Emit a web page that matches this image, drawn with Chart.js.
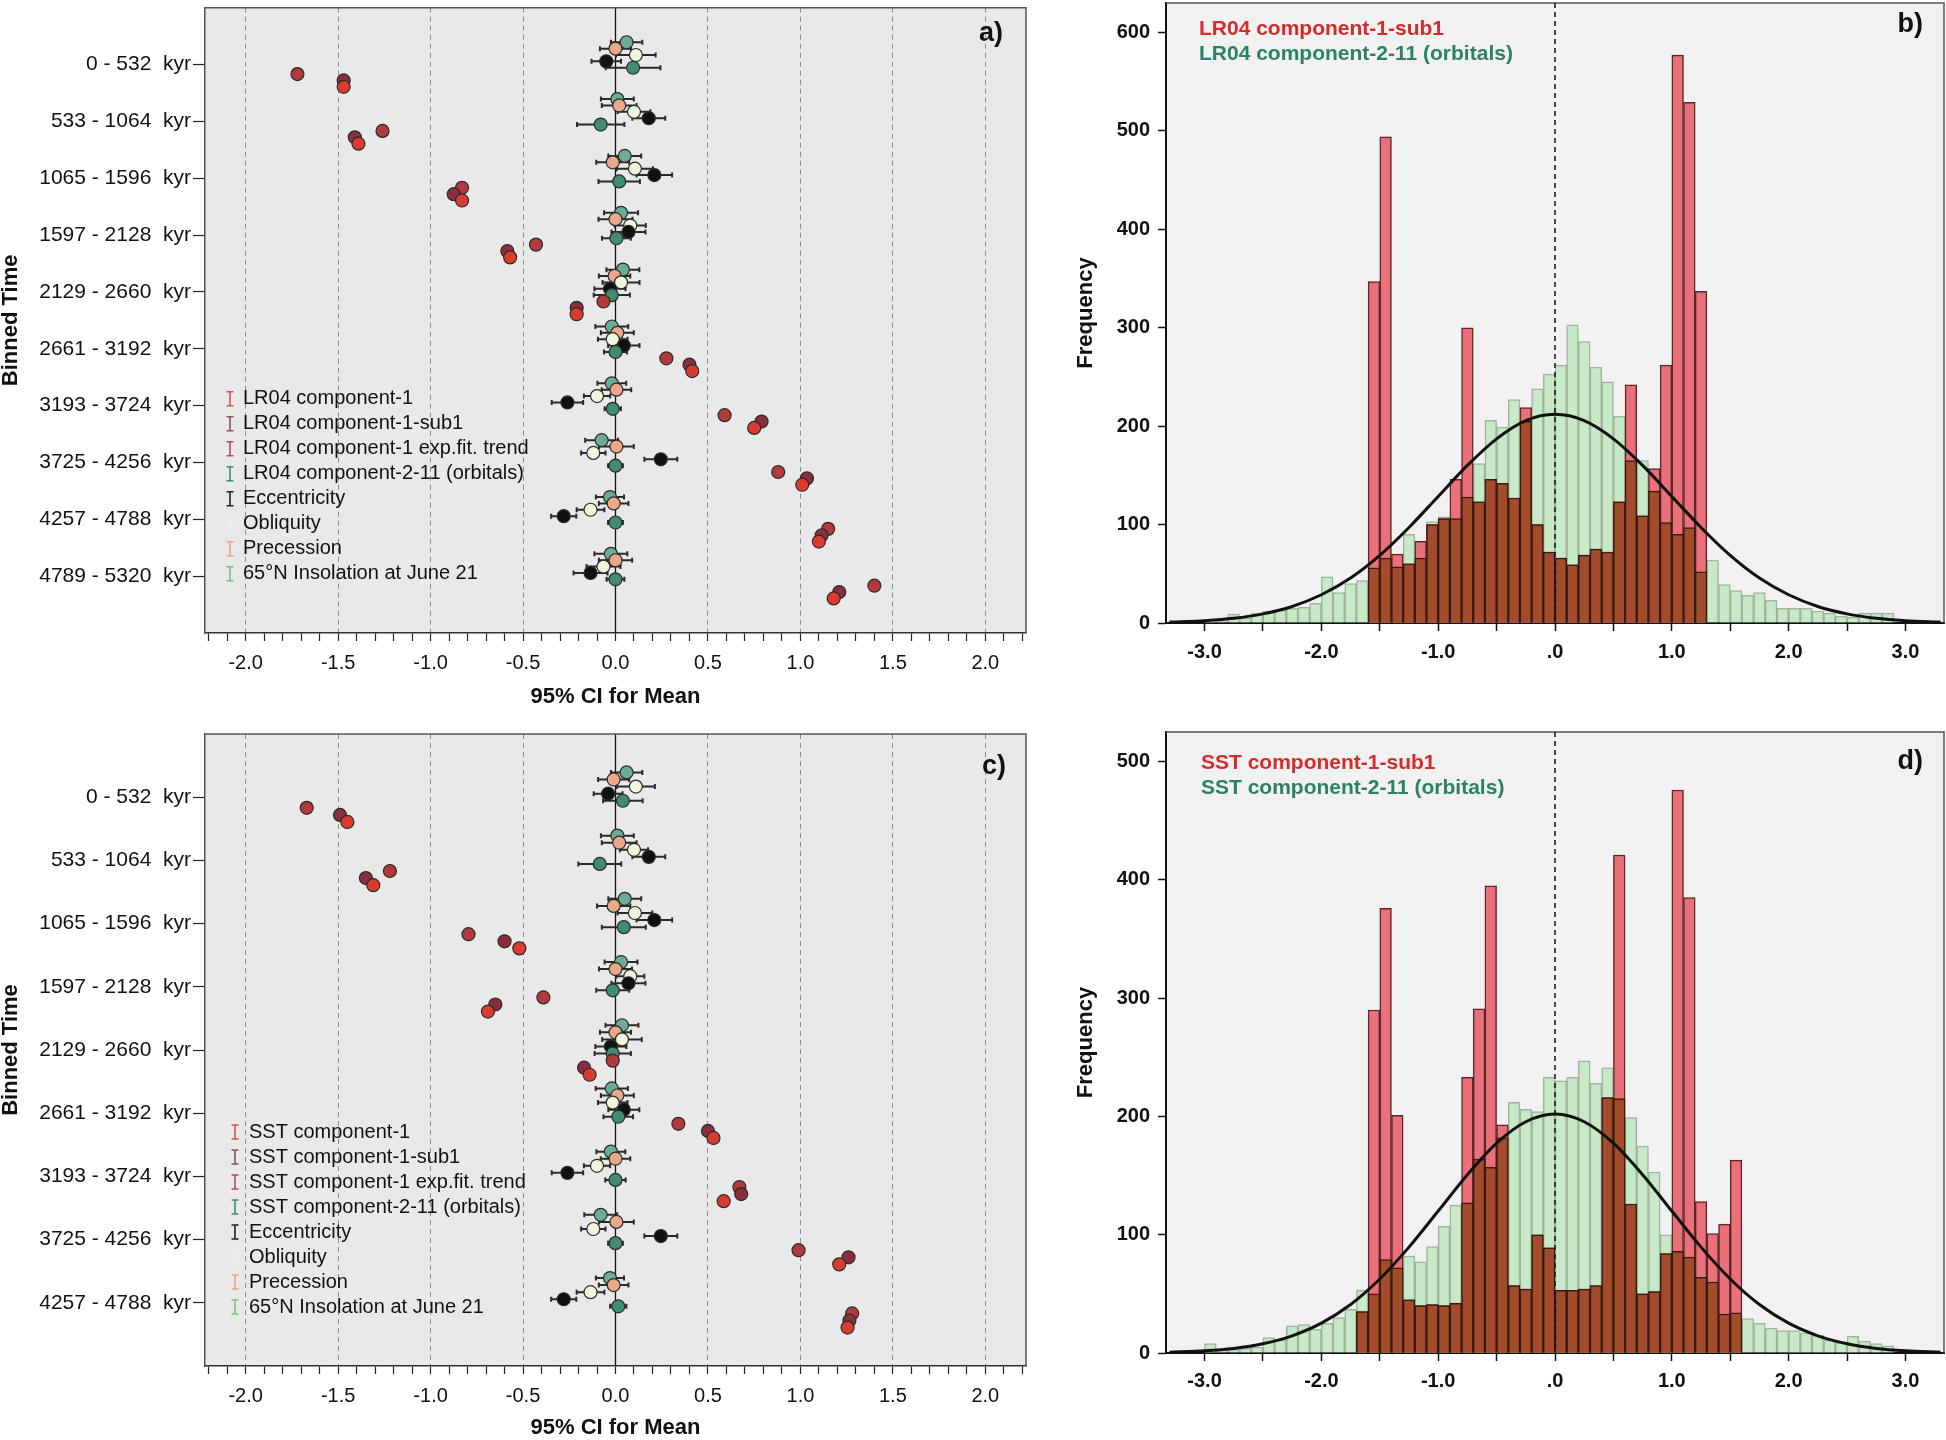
<!DOCTYPE html>
<html>
<head>
<meta charset="utf-8">
<script src="https://cdn.jsdelivr.net/npm/chart.js@4.4.1/dist/chart.umd.min.js"></script>
<style>
html, body { margin: 0; padding: 0; background: #fff; }
body { width: 1946px; height: 1440px; position: relative; overflow: hidden; }
canvas { position: absolute; }
</style>
</head>
<body>
<canvas id="chartA" width="1040" height="712" style="left:0;top:0;width:1040px;height:712px"></canvas>
<canvas id="chartB" width="886" height="712" style="left:1060px;top:0;width:886px;height:712px"></canvas>
<canvas id="chartC" width="1040" height="720" style="left:0;top:720px;width:1040px;height:720px"></canvas>
<canvas id="chartD" width="886" height="720" style="left:1060px;top:720px;width:886px;height:720px"></canvas>
<script>
// ---- panel a: LR04, binned means with 95% CI ----
const groupsA = ['0 - 532  kyr', '533 - 1064  kyr', '1065 - 1596  kyr', '1597 - 2128  kyr', '2129 - 2660  kyr',
  '2661 - 3192  kyr', '3193 - 3724  kyr', '3725 - 4256  kyr', '4257 - 4788  kyr', '4789 - 5320  kyr'];
const lrComp1 = [-1.47, -1.39, -0.83, -0.57, -0.21, 0.415, 0.75, 1.01, 1.10, 1.18];
const lrSub1 = [-1.47, -1.41, -0.875, -0.585, -0.21, 0.40, 0.79, 1.035, 1.115, 1.21];
const lrExpFit = [-1.72, -1.26, -0.83, -0.43, -0.065, 0.275, 0.59, 0.88, 1.15, 1.40];
const lrOrbitals = [0.095, -0.08, 0.02, 0.005, -0.02, 0.0, -0.015, 0.0, 0.0, 0.0];
const lrOrbitalsCI = [0.148, 0.128, 0.112, 0.078, 0.098, 0.062, 0.044, 0.04, 0.04, 0.048];
const eccA = [-0.05, 0.18, 0.21, 0.07, -0.03, 0.045, -0.26, 0.245, -0.28, -0.135];
const eccACI = [0.08, 0.089, 0.096, 0.092, 0.084, 0.085, 0.085, 0.089, 0.068, 0.092];
const oblA = [0.11, 0.10, 0.105, 0.08, 0.03, -0.015, -0.10, -0.12, -0.135, -0.065];
const oblACI = [0.107, 0.089, 0.098, 0.084, 0.10, 0.08, 0.071, 0.066, 0.075, 0.092];
const precA = [0.0, 0.02, -0.015, 0.0, -0.005, 0.01, 0.005, 0.005, -0.01, 0.0];
const precACI = [0.084, 0.094, 0.089, 0.092, 0.085, 0.089, 0.08, 0.094, 0.08, 0.09];
const insolA = [0.06, 0.01, 0.05, 0.03, 0.04, -0.02, -0.02, -0.075, -0.03, -0.025];
const insolACI = [0.085, 0.089, 0.089, 0.092, 0.089, 0.089, 0.078, 0.089, 0.076, 0.089];

// ---- panel c: SST, binned means with 95% CI ----
const groupsC = ['0 - 532  kyr', '533 - 1064  kyr', '1065 - 1596  kyr', '1597 - 2128  kyr', '2129 - 2660  kyr',
  '2661 - 3192  kyr', '3193 - 3724  kyr', '3725 - 4256  kyr', '4257 - 4788  kyr'];
const sstComp1 = [-1.45, -1.31, -0.52, -0.69, -0.14, 0.53, 0.585, 1.21, 1.255];
const sstSub1 = [-1.49, -1.35, -0.60, -0.65, -0.17, 0.50, 0.68, 1.26, 1.265];
const sstExpFit = [-1.67, -1.22, -0.795, -0.39, -0.015, 0.34, 0.67, 0.99, 1.28];
const sstOrbitals = [0.04, -0.085, 0.045, -0.015, -0.015, 0.015, 0.0, 0.0, 0.015];
const sstOrbitalsCI = [0.107, 0.116, 0.119, 0.089, 0.098, 0.08, 0.055, 0.04, 0.044];
const eccC = [-0.04, 0.18, 0.21, 0.07, -0.025, 0.045, -0.26, 0.245, -0.28];
const eccCCI = [0.078, 0.089, 0.096, 0.092, 0.084, 0.084, 0.085, 0.089, 0.068];
const oblC = [0.11, 0.10, 0.105, 0.08, 0.035, -0.015, -0.10, -0.12, -0.135];
const oblCCI = [0.103, 0.076, 0.094, 0.076, 0.107, 0.08, 0.071, 0.066, 0.075];
const precC = [-0.01, 0.02, -0.01, 0.0, 0.0, 0.01, 0.0, 0.005, -0.01];
const precCCI = [0.084, 0.094, 0.09, 0.089, 0.084, 0.089, 0.08, 0.094, 0.08];
const insolC = [0.06, 0.01, 0.05, 0.03, 0.035, -0.02, -0.025, -0.08, -0.03];
const insolCCI = [0.085, 0.089, 0.089, 0.089, 0.089, 0.087, 0.078, 0.089, 0.076];

// ---- histograms, bins of 0.1 ----
const BIN = 0.1;
const greenStartB = -3.0;
const greenB = [3, 2, 9, 5, 10, 12, 13, 15, 16, 20, 47, 31, 40, 43, 56, 66, 57, 90, 66, 103,
  108, 106, 128, 162, 206, 199, 227, 205, 238, 253, 262, 303, 286, 260, 245, 210, 165, 165, 134, 102,
  90, 97, 52, 64, 39, 33, 28, 31, 23, 15, 15, 15, 12, 10, 7, 6, 10, 10, 10];
const redStartB = -1.6;
const redB = [347, 494, 70, 60, 83, 100, 106, 146, 300, 123, 146, 142, 127, 219, 100, 72, 66, 59, 69, 75,
  72, 123, 242, 109, 157, 262, 577, 529, 337];

const greenStartD = -3.0;
const greenD = [8, 3, 3, 4, 5, 13, 11, 23, 24, 20, 25, 30, 37, 53, 50, 79, 72, 82, 77, 90,
  107, 125, 127, 164, 157, 182, 212, 206, 204, 233, 230, 233, 247, 228, 241, 215, 199, 175, 153, 100,
  86, 81, 64, 60, 33, 34, 29, 25, 21, 19, 19, 17, 15, 11, 9, 14, 10, 8, 6];
const redStartD = -1.7;
const redD = [35, 290, 376, 201, 45, 40, 41, 40, 42, 233, 291, 395, 193, 57, 54, 100, 89, 53, 53, 54,
  57, 216, 421, 126, 50, 52, 84, 476, 385, 128, 101, 109, 163];

// normal curves
const curveX = [-3.3, -3.0, -2.75, -2.5, -2.25, -2.0, -1.75, -1.5, -1.25, -1.0, -0.75, -0.5, -0.25, 0,
  0.25, 0.5, 0.75, 1.0, 1.25, 1.5, 1.75, 2.0, 2.25, 2.5, 2.75, 3.0, 3.3];
const curveB = [0.9, 2.4, 4.8, 9.3, 16.8, 28.7, 45.7, 68.7, 97.1, 128.6, 160.1, 187.1, 205.6, 212,
  205.6, 187.1, 160.1, 128.6, 97.1, 68.7, 45.7, 28.7, 16.8, 9.3, 4.8, 2.4, 0.9];
const curveD = [0.7, 1.9, 3.9, 7.8, 14.5, 25.2, 41.0, 62.6, 89.5, 120.0, 150.7, 177.4, 195.5, 202,
  195.5, 177.4, 150.7, 120.0, 89.5, 62.6, 41.0, 25.2, 14.5, 7.8, 3.9, 1.9, 0.7];

const FONT = '"Liberation Sans", Arial, Helvetica, sans-serif';
Chart.defaults.font.family = FONT;
Chart.defaults.color = '#111';

const isHalf = v => Math.abs(v * 2 - Math.round(v * 2)) < 1e-6;

// fixed axis sizes, no extra label padding added to the chart area
const fixWidth = w => s => { s.width = w; s.paddingTop = 0; s.paddingBottom = 0; };
const fixHeight = h => s => { s.height = h; s.paddingLeft = 0; s.paddingRight = 0; };

function framePlugin(fill) {
  return {
    id: 'frame',
    beforeDraw(chart) {
      const { ctx, chartArea: a } = chart;
      ctx.save();
      ctx.fillStyle = '#fff';
      ctx.fillRect(0, 0, chart.width, chart.height);
      ctx.fillStyle = fill;
      ctx.fillRect(a.left, a.top, a.right - a.left, a.bottom - a.top);
      ctx.restore();
    },
    afterDraw(chart) {
      const { ctx, chartArea: a } = chart;
      ctx.save();
      ctx.strokeStyle = '#555';
      ctx.lineWidth = 1.5;
      ctx.beginPath();
      ctx.moveTo(a.left, a.top);
      ctx.lineTo(a.right, a.top);
      ctx.lineTo(a.right, a.bottom);
      ctx.stroke();
      ctx.restore();
    }
  };
}

function tagPlugin(text, dx, dy) {
  return {
    id: 'tag',
    afterDraw(chart) {
      const { ctx, chartArea: a } = chart;
      ctx.save();
      ctx.font = 'bold 27px ' + FONT;
      ctx.fillStyle = '#111';
      ctx.textAlign = 'right';
      ctx.textBaseline = 'middle';
      ctx.fillText(text, a.right - dx, a.top + dy);
      ctx.restore();
    }
  };
}

// solid zero line + CI whiskers under the dots
const whiskerPlugin = {
  id: 'whiskers',
  beforeDatasetsDraw(chart) {
    const { ctx, chartArea: a, scales: { x, y } } = chart;
    ctx.save();
    const x0 = x.getPixelForValue(0);
    ctx.strokeStyle = '#111';
    ctx.lineWidth = 1.3;
    ctx.beginPath();
    ctx.moveTo(x0, a.top);
    ctx.lineTo(x0, a.bottom);
    ctx.stroke();
    ctx.strokeStyle = '#2a2a2a';
    ctx.lineWidth = 2;
    chart.data.datasets.forEach(ds => {
      if (!ds.ci) return;
      ds.data.forEach((p, i) => {
        const py = y.getPixelForValue(p.y);
        const lo = x.getPixelForValue(p.x - ds.ci[i]);
        const hi = x.getPixelForValue(p.x + ds.ci[i]);
        ctx.beginPath();
        ctx.moveTo(lo, py); ctx.lineTo(hi, py);
        ctx.moveTo(lo, py - 2.5); ctx.lineTo(lo, py + 2.5);
        ctx.moveTo(hi, py - 2.5); ctx.lineTo(hi, py + 2.5);
        ctx.stroke();
      });
    });
    ctx.restore();
  }
};

function dotLegendPlugin(series, pos) {
  return {
    id: 'dotLegend',
    afterDraw(chart) {
      const { ctx, chartArea: a } = chart;
      ctx.save();
      ctx.font = '20px ' + FONT;
      ctx.textBaseline = 'middle';
      series.forEach((s, i) => {
        const y = a.top + pos.top + i * 25;
        const x = a.left + pos.icon;
        ctx.strokeStyle = s.icon;
        ctx.lineWidth = 1.6;
        ctx.beginPath();
        ctx.moveTo(x, y - 7); ctx.lineTo(x, y + 7);
        ctx.moveTo(x - 3.5, y - 7); ctx.lineTo(x + 3.5, y - 7);
        ctx.moveTo(x - 3.5, y + 7); ctx.lineTo(x + 3.5, y + 7);
        ctx.stroke();
        ctx.fillStyle = '#111';
        ctx.fillText(s.name, a.left + pos.text, y);
      });
      ctx.restore();
    }
  };
}

function dotChart(id, groups, series, cfg) {
  const slotStep = 0.112;
  new Chart(document.getElementById(id), {
    type: 'scatter',
    data: {
      datasets: series.map(s => ({
        label: s.name,
        data: s.values.map((v, g) => ({ x: v, y: g + (s.slot - 3.5) * slotStep })),
        ci: s.ci || null,
        backgroundColor: s.fill,
        borderColor: '#2a2a2a',
        pointRadius: 6.5,
        pointHoverRadius: 6.5,
        pointBorderWidth: 1.2
      }))
    },
    options: {
      responsive: false,
      animation: false,
      events: [],
      layout: { padding: cfg.padding },
      plugins: { legend: { display: false }, tooltip: { enabled: false } },
      scales: {
        x: {
          type: 'linear', min: -2.22, max: 2.22,
          ticks: {
            stepSize: 0.1, autoSkip: false, maxRotation: 0, includeBounds: false, padding: 10,
            font: { size: 20 }, color: '#111',
            callback: v => isHalf(v) ? v.toFixed(1) : ''
          },
          grid: {
            color: c => (isHalf(c.tick.value) && Math.abs(c.tick.value) > 1e-6) ? '#8c8c8c' : 'rgba(0,0,0,0)',
            lineWidth: 1, tickColor: '#222', tickLength: 8, tickWidth: 1.2
          },
          border: { color: '#333', width: 1.5, dash: [5, 4] },
          title: {
            display: true, text: '95% CI for Mean', color: '#111',
            font: { size: 22, weight: 'bold', lineHeight: 1 },
            padding: { top: 0, bottom: cfg.xTitlePad }
          },
          afterFit: fixHeight(cfg.xHeight)
        },
        y: {
          type: 'linear', reverse: true, min: -1, max: groups.length,
          ticks: { stepSize: 1, autoSkip: false, padding: 2, font: { size: 21 }, color: '#111',
            callback: v => groups[v] ?? '' },
          grid: { drawOnChartArea: false, tickLength: 12, tickColor: '#222', tickWidth: 1.2 },
          border: { color: '#555', width: 1.5 },
          title: {
            display: true, text: 'Binned Time', color: '#111',
            font: { size: 22, weight: 'bold', lineHeight: 1 },
            padding: { top: 0, bottom: 0 }
          },
          afterBuildTicks: s => { s.ticks = s.ticks.filter(t => t.value >= 0 && t.value < groups.length); },
          afterFit: fixWidth(205)
        }
      }
    },
    plugins: [framePlugin('#e9e9e9'), whiskerPlugin, dotLegendPlugin(series, cfg.legend), tagPlugin(cfg.tag, cfg.tagDx, cfg.tagDy)]
  });
}

const binCenter = (start, i) => Math.round((start + (i + 0.5) * BIN) * 1000) / 1000;

function histLegendPlugin(lines, dx, dy) {
  return {
    id: 'histLegend',
    afterDraw(chart) {
      const { ctx, chartArea: a, scales: { x } } = chart;
      ctx.save();
      // dashed line at zero
      const x0 = x.getPixelForValue(0);
      ctx.strokeStyle = '#111';
      ctx.lineWidth = 1.5;
      ctx.setLineDash([5, 4]);
      ctx.beginPath();
      ctx.moveTo(x0, a.top);
      ctx.lineTo(x0, a.bottom);
      ctx.stroke();
      ctx.setLineDash([]);
      ctx.font = 'bold 21px ' + FONT;
      ctx.textBaseline = 'middle';
      lines.forEach((l, i) => {
        ctx.fillStyle = l.color;
        ctx.fillText(l.text, a.left + dx, a.top + dy + i * 25);
      });
      ctx.restore();
    }
  };
}

function histChart(id, h) {
  const green = h.green.map((v, i) => ({ x: binCenter(h.greenStart, i), y: v }));
  const red = h.red.map((v, i) => ({ x: binCenter(h.redStart, i), y: v }));
  const shift = Math.round((h.redStart - h.greenStart) / BIN);
  const overlap = h.red.map((v, i) => ({ x: binCenter(h.redStart, i), y: Math.min(v, h.green[shift + i] || 0) }));
  const curve = curveX.map((x, i) => ({ x, y: h.curve[i] }));
  new Chart(document.getElementById(id), {
    type: 'bar',
    data: {
      datasets: [
        { type: 'line', data: curve, borderColor: '#111', borderWidth: 3, pointRadius: 0,
          cubicInterpolationMode: 'monotone', fill: false, order: 0 },
        { data: overlap, backgroundColor: '#a24c2c', borderColor: '#3a1a10', borderWidth: 1.5, order: 1 },
        { data: red, backgroundColor: '#ea707a', borderColor: '#5e2628', borderWidth: 1.5, order: 2 },
        { data: green, backgroundColor: '#c7eac6', borderColor: '#a2b3a2', borderWidth: 1.5, order: 3 }
      ]
    },
    options: {
      responsive: false,
      animation: false,
      events: [],
      layout: { padding: h.padding },
      datasets: { bar: { grouped: false, barPercentage: 1, categoryPercentage: 1, borderSkipped: 'start' } },
      plugins: { legend: { display: false }, tooltip: { enabled: false } },
      scales: {
        x: {
          type: 'linear', min: -3.33, max: 3.33, offset: false,
          ticks: {
            stepSize: 0.5, autoSkip: false, maxRotation: 0, includeBounds: false, padding: h.xTickPad,
            font: { size: 20, weight: 'bold' }, color: '#111',
            callback: v => Number.isInteger(v) ? (v === 0 ? '.0' : v.toFixed(1)) : ''
          },
          grid: { drawOnChartArea: false, offset: false, tickLength: 8, tickColor: '#111', tickWidth: 1.5 },
          border: { color: '#111', width: 2 },
          afterFit: fixHeight(h.xHeight)
        },
        y: {
          type: 'linear', min: 0, max: h.yMax,
          ticks: { stepSize: 100, includeBounds: false, padding: 8, font: { size: 20, weight: 'bold' }, color: '#111' },
          grid: { drawOnChartArea: false, tickLength: 8, tickColor: '#111', tickWidth: 1.5 },
          border: { color: '#111', width: 2 },
          title: {
            display: true, text: 'Frequency', color: '#111',
            font: { size: 22, weight: 'bold', lineHeight: 1 },
            padding: { top: 15, bottom: 0 }
          },
          afterFit: fixWidth(106)
        }
      }
    },
    plugins: [framePlugin('#f1f1f1'), histLegendPlugin(h.legend, h.legendDx, h.legendDy), tagPlugin(h.tag, h.tagDx, h.tagDy)]
  });
}

const seriesA = [
  { name: 'LR04 component-1', values: lrComp1, fill: '#dc3b30', slot: 7, icon: '#d9534f' },
  { name: 'LR04 component-1-sub1', values: lrSub1, fill: '#8a2e3b', slot: 6, icon: '#8b4b6b' },
  { name: 'LR04 component-1 exp.fit. trend', values: lrExpFit, fill: '#b23a3c', slot: 5, icon: '#b04a6e' },
  { name: 'LR04 component-2-11 (orbitals)', values: lrOrbitals, ci: lrOrbitalsCI, fill: '#3f8c72', slot: 4, icon: '#3a8f6a' },
  { name: 'Eccentricity', values: eccA, ci: eccACI, fill: '#111111', slot: 3, icon: '#222222' },
  { name: 'Obliquity', values: oblA, ci: oblACI, fill: '#eef7dc', slot: 2, icon: '#e4f2dc' },
  { name: 'Precession', values: precA, ci: precACI, fill: '#eba98c', slot: 1, icon: '#f0a27e' },
  { name: '65°N Insolation at June 21', values: insolA, ci: insolACI, fill: '#6cae93', slot: 0, icon: '#78c47a' }
];
const seriesC = [
  { name: 'SST component-1', values: sstComp1, fill: '#dc3b30', slot: 7, icon: '#d9534f' },
  { name: 'SST component-1-sub1', values: sstSub1, fill: '#8a2e3b', slot: 6, icon: '#8b4b6b' },
  { name: 'SST component-1 exp.fit. trend', values: sstExpFit, fill: '#b23a3c', slot: 5, icon: '#b04a6e' },
  { name: 'SST component-2-11 (orbitals)', values: sstOrbitals, ci: sstOrbitalsCI, fill: '#3f8c72', slot: 4, icon: '#3a8f6a' },
  { name: 'Eccentricity', values: eccC, ci: eccCCI, fill: '#111111', slot: 3, icon: '#222222' },
  { name: 'Obliquity', values: oblC, ci: oblCCI, fill: '#eef7dc', slot: 2, icon: '#e4f2dc' },
  { name: 'Precession', values: precC, ci: precCCI, fill: '#eba98c', slot: 1, icon: '#f0a27e' },
  { name: '65°N Insolation at June 21', values: insolC, ci: insolCCI, fill: '#6cae93', slot: 0, icon: '#78c47a' }
];

dotChart('chartA', groupsA, seriesA, {
  padding: { left: 0, right: 14, top: 2, bottom: 0 }, xHeight: 79, xTitlePad: 4,
  legend: { icon: 25, text: 38, top: 391 }, tag: 'a)', tagDx: 23, tagDy: 26
});
dotChart('chartC', groupsC, seriesC, {
  padding: { left: 0, right: 14, top: 14, bottom: 0 }, xHeight: 74, xTitlePad: 1,
  legend: { icon: 30, text: 44, top: 398 }, tag: 'c)', tagDx: 20, tagDy: 33
});

histChart('chartB', {
  green: greenB, greenStart: greenStartB, red: redB, redStart: redStartB, curve: curveB,
  yMax: 630, padding: { left: 0, right: 2, top: 3, bottom: 0 }, xHeight: 89, xTickPad: 9,
  legend: [{ text: 'LR04 component-1-sub1', color: '#d42b2b' }, { text: 'LR04 component-2-11 (orbitals)', color: '#2a8068' }],
  legendDx: 33, legendDy: 26, tag: 'b)', tagDx: 21, tagDy: 22
});
histChart('chartD', {
  green: greenD, greenStart: greenStartD, red: redD, redStart: redStartD, curve: curveD,
  yMax: 525, padding: { left: 0, right: 2, top: 12, bottom: 0 }, xHeight: 87, xTickPad: 8,
  legend: [{ text: 'SST component-1-sub1', color: '#d42b2b' }, { text: 'SST component-2-11 (orbitals)', color: '#2a8068' }],
  legendDx: 35, legendDy: 31, tag: 'd)', tagDx: 21, tagDy: 30
});
</script>
</body>
</html>
